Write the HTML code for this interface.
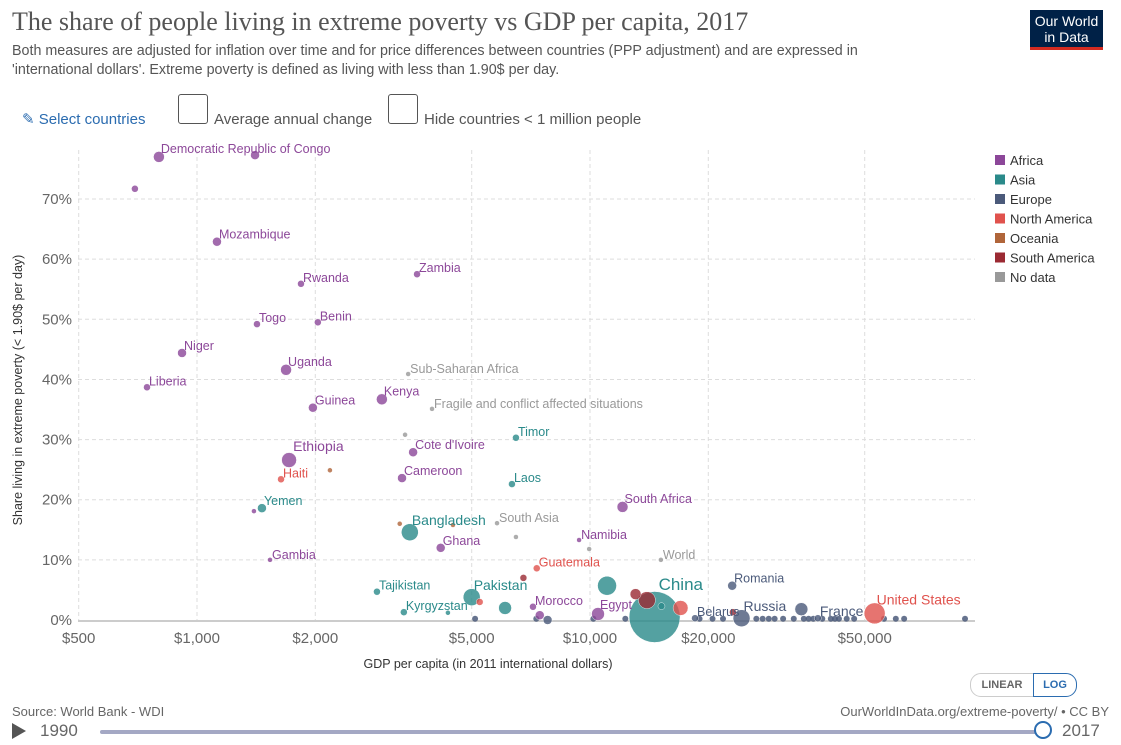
<!DOCTYPE html>
<html><head><meta charset="utf-8"><style>
body{margin:0;width:1121px;height:745px;background:#fff;font-family:"Liberation Sans",sans-serif;position:relative;overflow:hidden}
.a{position:absolute}
</style></head><body>
<div class="a" style="left:12px;top:7px;font-family:'Liberation Serif',serif;font-size:26px;color:#555">The share of people living in extreme poverty vs GDP per capita, 2017</div>
<div class="a" style="left:12px;top:42px;font-size:14.3px;color:#555;line-height:19px;width:905px">Both measures are adjusted for inflation over time and for price differences between countries (PPP adjustment) and are expressed in 'international dollars'. Extreme poverty is defined as living with less than 1.90$ per day.</div>
<div class="a" style="left:1030px;top:10px;width:73px;height:40px;background:#002147;border-bottom:3px solid #d42b21;color:#fff;font-size:14px;line-height:16px;text-align:center;padding-top:3px;box-sizing:border-box">Our World<br>in Data</div>
<div class="a" style="left:22px;top:110px;font-size:15px;color:#2b6cb0">✎ Select countries</div>
<div class="a" style="left:178px;top:94px;width:28px;height:28px;border:1.5px solid #555;border-radius:3px"></div>
<div class="a" style="left:214px;top:111px;font-size:15px;color:#555">Average annual change</div>
<div class="a" style="left:388px;top:94px;width:28px;height:28px;border:1.5px solid #555;border-radius:3px"></div>
<div class="a" style="left:424px;top:111px;font-size:15px;color:#555">Hide countries &lt; 1 million people</div>
<svg class="a" style="left:0;top:0" width="1121" height="745" id="svg"></svg>
<div class="a" style="left:12px;top:704px;font-size:13px;color:#666">Source: World Bank - WDI</div>
<div class="a" style="right:12px;top:704px;font-size:13px;color:#666">OurWorldInData.org/extreme-poverty/ • CC BY</div>
<div class="a" style="left:970px;top:673px;width:62px;height:22px;border:1px solid #ccc;border-radius:11px 0 0 11px;font-size:11px;color:#666;text-align:center;line-height:22px;font-weight:bold">LINEAR</div>
<div class="a" style="left:1033px;top:673px;width:42px;height:22px;border:1px solid #2b6cb0;border-radius:0 11px 11px 0;font-size:11px;color:#2b6cb0;text-align:center;line-height:22px;font-weight:bold">LOG</div>
<div class="a" style="left:12px;top:723px;width:0;height:0;border-left:14px solid #555;border-top:8px solid transparent;border-bottom:8px solid transparent"></div>
<div class="a" style="left:40px;top:721px;font-size:17px;color:#666">1990</div>
<div class="a" style="left:100px;top:730px;width:945px;height:4px;background:#a4a8c4;border-radius:2px"></div>
<div class="a" style="left:1034px;top:721px;width:18px;height:18px;border-radius:50%;background:#fff;border:2px solid #2b6cb0;box-sizing:border-box"></div>
<div class="a" style="left:1062px;top:721px;font-size:17px;color:#666">2017</div>
<script>
const xTicks=[500,1000,2000,5000,10000,20000,50000];
const xTickLabels=["$500","$1,000","$2,000","$5,000","$10,000","$20,000","$50,000"];
const yTicks=[0,10,20,30,40,50,60,70];
const regions=["Africa","Asia","Europe","North America","Oceania","South America","No data"];
const regionColors=["#8c4799","#2a8a8a","#4b5a7a","#e0524d","#b0653a","#9b2a33","#999"];
const names=["Democratic Republic of Congo","","","Mozambique","Rwanda","Zambia","Togo","Benin","Niger","Uganda","Sub-Saharan Africa","Liberia","Kenya","Guinea","Fragile and conflict affected situations","","Timor","Cote d'Ivoire","Ethiopia","Haiti","","Cameroon","Laos","South Africa","Yemen","","Bangladesh","","","South Asia","","Namibia","","Ghana","World","Gambia","Guatemala","","Tajikistan","Pakistan","","Kyrgyzstan","","","Morocco","","","Egypt","","","","China","","","Romania","Russia","","","United States","Belarus","France"];
const gdp=[800,1405,695,1124,1839,3630,1421,2030,916,1685,3446,746,2954,1972,3963,3384,6480,3547,1715,1636,2179,3324,6330,12100,1463,1396,3480,3280,4480,5800,6480,9380,9950,4170,15150,1534,7320,6770,2870,5000,5240,3360,4350,6080,7160,7450,7800,10480,11050,13060,13960,14600,17000,15200,23000,24300,23100,34500,53000,18500,38000];
const pct=[77,77.3,71.7,62.9,55.9,57.5,49.2,49.5,44.4,41.6,40.9,38.7,36.7,35.3,35.1,30.8,30.3,27.9,26.6,23.4,24.9,23.6,22.6,18.8,18.6,18.1,14.6,16,15.8,16.1,13.8,13.3,11.8,12,10,10,8.6,7,4.7,3.8,3,1.3,1.2,2,2.2,0.8,0,1,5.7,4.3,3.3,0.5,2,2.3,5.7,0.3,1.3,1.8,1.1,0.3,0.3];
const region=[0,0,0,0,0,0,0,0,0,0,6,0,0,0,6,6,1,0,0,3,4,0,1,0,1,0,1,4,4,6,6,0,6,0,6,0,3,5,1,1,3,1,1,1,0,0,2,0,1,5,5,1,3,1,2,2,5,2,3,2,2];
const sizes=[5,4,3,4,3,3,3,3,4,5,2,3,5,4,2,2,3,4,7,3,2,4,3,5,4,2,8,2,2,2,2,2,2,4,2,2,3,3,3,8,3,3,2,6,3,4,4,6,9,5,8,25,7,3,4,8,3,6,10,3,3];
const dotGdp=[5100,7300,10200,12300,19000,20500,21800,27500,29500,31000,33000,35000,37000,39000,41000,43000,45000,47000,56000,60000,63000,90000,26500,28500,36000,42000];
function X(v){return 197+(Math.log10(v)-3)*393;}
function Y(p){return 620-p*6.014;}
const s=document.getElementById('svg');const NS='http://www.w3.org/2000/svg';
function el(t,a,txt){const e=document.createElementNS(NS,t);for(const k in a)e.setAttribute(k,a[k]);if(txt!==undefined)e.textContent=txt;s.appendChild(e);return e;}
xTicks.forEach((v,i)=>{const x=X(v);
const g=el('line',{x1:x,x2:x,y1:150,y2:620,stroke:'#ddd','stroke-dasharray':'4,3'});


const t=el('text',{x:x,y:643,'text-anchor':'middle','font-size':15,fill:'#666'},xTickLabels[i]);

});
yTicks.forEach(v=>{const y=Y(v);
if(v>0){const g=el('line',{x1:78,x2:975,y1:y,y2:y,stroke:'#ddd','stroke-dasharray':'4,3'});

}
const t=el('text',{x:72,y:y+5,'text-anchor':'end','font-size':15,fill:'#666'},v+'%');

});
const ax=el('line',{x1:78,x2:975,y1:621,y2:621,stroke:'#ccc','stroke-width':2});


const xt=el('text',{x:488,y:668,'text-anchor':'middle','font-size':12.5,fill:'#333'},'GDP per capita (in 2011 international dollars)');


const yt=el('text',{x:0,y:0,'text-anchor':'middle','font-size':12.5,fill:'#333',transform:'translate(22,390) rotate(-90)'},'Share living in extreme poverty (< 1.90$ per day)');


dotGdp.forEach(v=>{const c=el('circle',{cx:X(v),cy:Y(0.2),r:3,fill:'#4b5a7a',opacity:0.85});

});
const order=gdp.map((_,i)=>i).sort((a,b)=>sizes[b]-sizes[a]);
order.forEach(i=>{const c=el('circle',{cx:X(gdp[i]),cy:Y(pct[i]),r:sizes[i]+0.5,fill:regionColors[region[i]],opacity:0.8,stroke:'#fff','stroke-width':0.5});

});
gdp.forEach((v,i)=>{if(!names[i])return;const big=names[i]=='China'||names[i]=='Ethiopia';
const t=el('text',{x:X(v)+(big?4:2),y:Y(pct[i])-sizes[i]+(big?-2:1),'font-size':names[i]=='China'?17:(big||names[i]=='Bangladesh'||names[i]=='Pakistan'||names[i]=='United States'||names[i]=='Russia'||names[i]=='France'?14:12.5),fill:regionColors[region[i]]},names[i]);

});
regions.forEach((r,i)=>{const y=160+i*19.5;
const b=el('rect',{x:995,y:y-5,width:10,height:10,fill:regionColors[i]});


const t=el('text',{x:1010,y:y+5,'font-size':13,fill:'#333'},r);

});
</script>
</body></html>
